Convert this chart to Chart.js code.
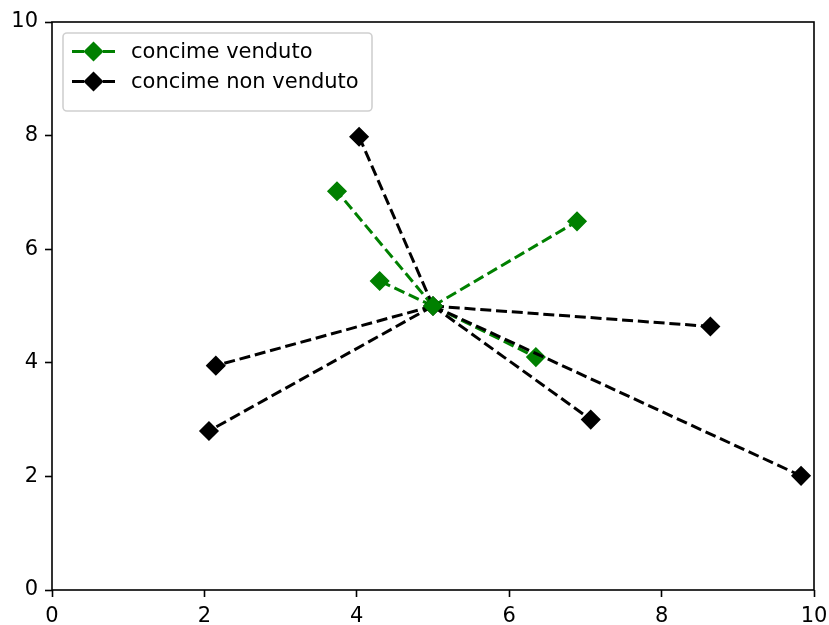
<!DOCTYPE html>
<html>
<head>
<meta charset="utf-8">
<script src="https://cdn.jsdelivr.net/npm/chart.js@4/dist/chart.umd.min.js"></script>
<style>
  html, body { margin: 0; padding: 0; background: #fff; }
  #wrap { width: 829px; height: 625px; }
</style>
</head>
<body>
<div id="wrap"><canvas id="c" width="829" height="625"></canvas></div>
<script>
// ---- data ----
const centerX = 5;
const centerY = 5;
const soldLabel = 'concime venduto';
const unsoldLabel = 'concime non venduto';
const soldX = [3.74, 6.89, 4.30, 6.35];
const soldY = [7.02, 6.49, 5.44, 4.10];
const unsoldX = [4.03, 8.64, 2.15, 2.06, 7.07, 9.83];
const unsoldY = [7.98, 4.64, 3.95, 2.80, 3.00, 2.01];
const xTicks = [0, 2, 4, 6, 8, 10];
const yTicks = [0, 2, 4, 6, 8, 10];

const GREEN = '#008000';
const BLACK = '#000000';
const LW = 3;
const DASH = [11, 4.8];
const R = 9;
const PBW = 1.5;

function segment(x, y, color, order) {
  return {
    data: [{x: centerX, y: centerY}, {x: x, y: y}],
    showLine: true,
    borderColor: color,
    backgroundColor: color,
    borderWidth: LW,
    borderDash: DASH,
    pointStyle: 'rectRot',
    pointRadius: [0, R],
    pointBorderWidth: PBW,
    pointBorderColor: color,
    pointBackgroundColor: color,
    pointHoverRadius: [0, R],
    order: order
  };
}

const datasets = [];
soldX.forEach((x, i) => datasets.push(segment(x, soldY[i], GREEN, 30)));
unsoldX.forEach((x, i) => datasets.push(segment(x, unsoldY[i], BLACK, 20)));
// center markers
datasets.push({
  data: [{x: centerX, y: centerY}], showLine: false, pointStyle: 'rectRot',
  pointRadius: R, pointBorderWidth: PBW, pointBorderColor: BLACK, pointBackgroundColor: BLACK, order: 10
});
datasets.push({
  data: [{x: centerX, y: centerY}], showLine: false, pointStyle: 'rectRot',
  pointRadius: R, pointBorderWidth: PBW, pointBorderColor: GREEN, pointBackgroundColor: GREEN, order: 0
});

const FONT = 'DejaVu Sans';
const FS = 21;

const framePlugin = {
  id: 'frame',
  afterDraw(chart) {
    const ctx = chart.ctx;
    const a = chart.chartArea;
    ctx.save();
    ctx.strokeStyle = '#000';
    ctx.lineWidth = 1.6;
    ctx.setLineDash([]);
    ctx.strokeRect(a.left, a.top, a.right - a.left, a.bottom - a.top);

    // legend
    const bx = 63, by = 33, bw = 309, bh = 78, rr = 4;
    ctx.beginPath();
    ctx.moveTo(bx + rr, by);
    ctx.lineTo(bx + bw - rr, by);
    ctx.arcTo(bx + bw, by, bx + bw, by + rr, rr);
    ctx.lineTo(bx + bw, by + bh - rr);
    ctx.arcTo(bx + bw, by + bh, bx + bw - rr, by + bh, rr);
    ctx.lineTo(bx + rr, by + bh);
    ctx.arcTo(bx, by + bh, bx, by + bh - rr, rr);
    ctx.lineTo(bx, by + rr);
    ctx.arcTo(bx, by, bx + rr, by, rr);
    ctx.closePath();
    ctx.fillStyle = 'rgba(255,255,255,0.8)';
    ctx.fill();
    ctx.strokeStyle = '#d0d0d0';
    ctx.lineWidth = 1.6;
    ctx.stroke();

    const items = [[soldLabel, GREEN, 51.5], [unsoldLabel, BLACK, 81.5]];
    items.forEach(([label, color, yy]) => {
      ctx.strokeStyle = color;
      ctx.lineWidth = LW;
      ctx.setLineDash([]);
      ctx.beginPath();
      ctx.moveTo(72, yy); ctx.lineTo(84, yy);
      ctx.moveTo(103, yy); ctx.lineTo(115, yy);
      ctx.stroke();
      ctx.beginPath();
      ctx.moveTo(93.5, yy - R);
      ctx.lineTo(93.5 + R, yy);
      ctx.lineTo(93.5, yy + R);
      ctx.lineTo(93.5 - R, yy);
      ctx.closePath();
      ctx.fillStyle = color;
      ctx.fill();
      ctx.lineWidth = PBW;
      ctx.stroke();
      ctx.fillStyle = '#000';
      ctx.font = FS + 'px "' + FONT + '"';
      ctx.textAlign = 'left';
      ctx.textBaseline = 'middle';
      ctx.fillText(label, 131, yy + 1);
    });
    ctx.restore();
  }
};

function axis(ticks, isX) {
  return {
    type: 'linear',
    min: ticks[0],
    max: ticks[ticks.length - 1],
    afterBuildTicks: s => { s.ticks = ticks.map(v => ({value: v})); },
    ticks: {
      color: '#000',
      font: {family: FONT, size: FS},
      padding: 7,
      maxRotation: 0,
      autoSkip: false
    },
    grid: {
      display: true, drawOnChartArea: false, drawTicks: true,
      tickLength: 7, tickColor: '#000', tickWidth: 1.6
    },
    border: {display: false},
    afterFit: s => {
      if (isX) s.height = 35; else s.width = 52;
      s.paddingLeft = 0; s.paddingRight = 0; s.paddingTop = 0; s.paddingBottom = 0;
    }
  };
}

new Chart(document.getElementById('c'), {
  type: 'scatter',
  data: {datasets},
  options: {
    responsive: false,
    animation: false,
    events: [],
    layout: {padding: {left: 0, right: 15, top: 22, bottom: 0}},
    plugins: {legend: {display: false}, tooltip: {enabled: false}},
    scales: {x: axis(xTicks, true), y: axis(yTicks, false)}
  },
  plugins: [framePlugin]
});
</script>
</body>
</html>
